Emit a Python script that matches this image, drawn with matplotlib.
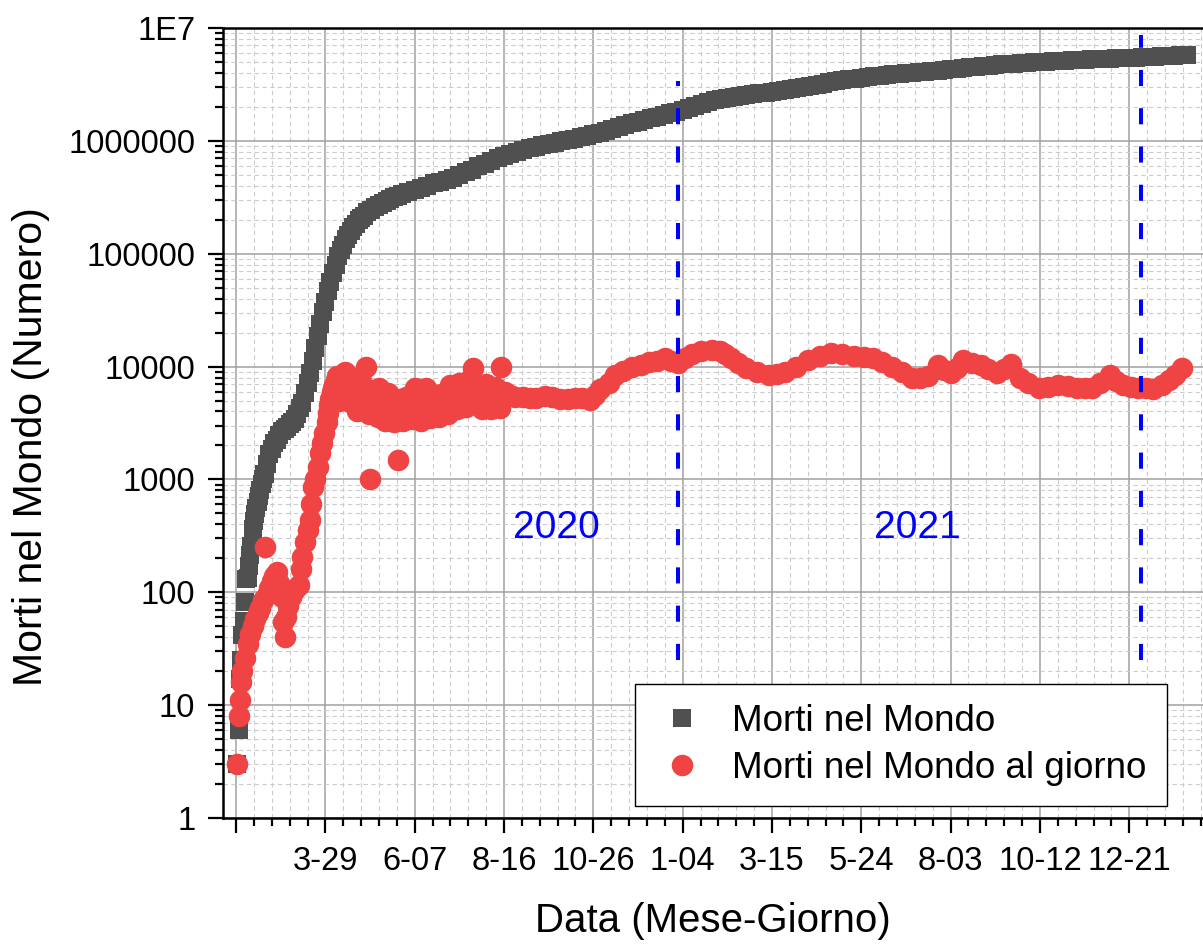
import matplotlib
matplotlib.use("Agg")
import matplotlib.pyplot as plt
from matplotlib.ticker import FixedLocator, MultipleLocator, LogLocator, NullFormatter

plt.rcParams['font.family'] = ['Liberation Sans', 'DejaVu Sans']

# giorni dal 20 gennaio 2020
cum_days = [1, 2, 3, 4, 5, 6, 7, 8, 9, 10, 11, 12, 13, 14, 15, 16, 17, 18, 19, 20, 21, 22, 23, 24,
            26, 28, 30, 32, 34, 36, 38, 40, 42, 44, 46, 48, 50, 52, 54, 56, 58, 60, 62, 64, 66, 68,
            70, 72, 74, 76, 78, 80, 82, 84, 86, 88, 90, 92, 94, 96, 98, 100, 103, 106, 109, 112,
            115, 118, 121, 124, 127, 130, 135, 140, 145, 150, 155, 160, 165, 170, 175, 180, 185,
            190, 195, 200, 205, 210, 215, 220, 225, 230, 235, 240, 245, 250, 255, 260, 265, 270,
            275, 280, 285, 290, 295, 300, 305, 310, 315, 320, 325, 330, 335, 340, 345, 350, 355,
            360, 365, 370, 375, 380, 385, 390, 395, 400, 405, 410, 415, 420, 425, 430, 435, 440,
            445, 450, 455, 460, 465, 470, 475, 480, 485, 490, 495, 500, 505, 510, 515, 520, 525,
            530, 535, 540, 545, 550, 555, 560, 565, 570, 575, 580, 585, 590, 595, 600, 605, 610,
            615, 620, 625, 630, 635, 640, 645, 650, 655, 660, 665, 670, 675, 680, 685, 690, 695,
            700, 705, 710, 715, 720, 725, 730, 735, 740, 745]
cum_deaths = [3, 6, 17, 25, 42, 56, 82, 131, 133, 171, 213, 259, 362, 426, 492, 564, 634, 719, 806,
              906, 1013, 1113, 1118, 1371, 1666, 1868, 2122, 2251, 2469, 2708, 2814, 2941, 3085,
              3254, 3460, 3803, 4262, 4720, 5819, 7126, 8733, 11299, 14651, 18625, 23970, 30652,
              37582, 46809, 56700, 68000, 79000, 95000, 108000, 120000, 134000, 146000, 160000,
              172000, 184000, 197000, 207000, 218000, 232000, 245000, 259000, 271000, 284000,
              296000, 305000, 315000, 325000, 336000, 351000, 368000, 384000, 400000, 419000,
              436000, 452000, 473000, 500000, 529000, 557000, 593000, 625000, 661000, 698000,
              735000, 770000, 800000, 830000, 858000, 885000, 912000, 940000, 965000, 992000,
              1015000, 1043000, 1072000, 1105000, 1140000, 1180000, 1230000, 1280000, 1330000,
              1380000, 1430000, 1480000, 1530000, 1580000, 1640000, 1700000, 1760000, 1820000,
              1880000, 1960000, 2040000, 2130000, 2210000, 2290000, 2350000, 2410000, 2460000,
              2510000, 2560000, 2600000, 2640000, 2680000, 2720000, 2770000, 2820000, 2880000,
              2940000, 3010000, 3080000, 3150000, 3220000, 3290000, 3360000, 3430000, 3500000,
              3560000, 3620000, 3680000, 3730000, 3780000, 3830000, 3880000, 3920000, 3960000,
              4000000, 4040000, 4090000, 4140000, 4190000, 4250000, 4310000, 4370000, 4430000,
              4490000, 4550000, 4600000, 4650000, 4700000, 4750000, 4790000, 4830000, 4870000,
              4910000, 4950000, 4980000, 5020000, 5050000, 5090000, 5120000, 5160000, 5190000,
              5230000, 5260000, 5290000, 5320000, 5350000, 5380000, 5410000, 5440000, 5470000,
              5500000, 5540000, 5580000, 5620000, 5660000, 5700000, 5740000, 5780000]

# morti giornaliere: inizio
early_days = [1, 2, 3, 4, 5, 7, 9, 11, 13, 15, 17, 19, 21, 23, 24, 26, 28, 30, 32, 34, 36, 37, 38,
              39, 41, 43, 45, 47, 49, 51, 52, 54, 56, 58, 59, 60, 62, 64, 66, 67, 69, 71, 72, 73]
early_vals = [3, 8, 11, 16, 20, 26, 35, 43, 50, 58, 65, 72, 85, 250, 95, 110, 125, 140, 150, 120,
              90, 55, 40, 60, 75, 90, 100, 110, 115, 160, 205, 280, 360, 440, 600, 860, 1000, 1300,
              1700, 2100, 2600, 3200, 3900, 4600]

# morti giornaliere: aprile-agosto 2020 (giorni 74-211)
mid_days = list(range(74, 212))
mid_vals = [5200, 6000, 6400, 6800, 7600, 8200, 6200,
            5000, 5400, 7300, 8400, 9000, 7800, 6100,
            5100, 4900, 7500, 8000, 7600, 6300, 5200,
            4000, 4600, 6800, 7400, 6200, 5600, 4000,
            10000, 4200, 3800, 1000, 5800, 6200, 5500,
            4400, 3900, 3600, 6500, 5700, 5400, 4800,
            3700, 3300, 4300, 5800, 5500, 5200, 4600,
            3500, 3200, 3700, 4800, 1500, 5200, 4300,
            3600, 3300, 4300, 5400, 5100, 5000, 4300,
            3700, 3400, 4800, 6500, 5100, 4800, 4000,
            3500, 3300, 4900, 5900, 5400, 6400, 4700,
            3600, 3500, 4800, 5100, 5400, 5300, 4800,
            3700, 3600, 5100, 5700, 5600, 5600, 4600,
            4000, 3800, 5400, 6800, 6300, 6200, 5600,
            4300, 4200, 6500, 7200, 7000, 6500, 5800,
            4400, 4400, 6600, 7100, 7800, 6500, 5200,
            9800, 5000, 6600, 7000, 6500, 6200, 5400,
            4200, 4300, 6400, 7000, 6900, 6400, 5300,
            4200, 4500, 6300, 6600, 6200, 5800, 5100,
            4300, 10000, 6000, 5500, 5900]

# morti giornaliere: da settembre 2020
late_days = [215, 219, 225, 230, 235, 242, 248, 254, 260, 266, 271, 277, 281, 285, 292, 297, 303,
             310, 317, 324, 330, 336, 341, 346, 352, 357, 364, 373, 379, 383, 388, 393, 400, 408,
             418, 424, 430, 439, 448, 458, 466, 475, 484, 492, 499, 506, 514, 522, 530, 536, 542,
             550, 555, 560, 565, 570, 577, 584, 589, 596, 602, 607, 614, 621, 629, 636, 644, 652,
             659, 665, 671, 677, 685, 690, 695, 701, 707, 713, 719, 726, 731, 736, 741]
late_vals = [5600, 5400, 5400, 5300, 5300, 5500, 5400, 5200, 5200, 5300, 5300, 5100, 5600, 6300,
             7200, 8400, 9200, 10000, 10400, 10900, 11300, 11800, 11200, 10700, 12000, 13000, 13800,
             14100, 13800, 13000, 11800, 10700, 9800, 9000, 8400, 8600, 9000, 10000, 11400, 12400,
             13300, 13000, 12500, 12200, 11800, 11000, 10000, 9000, 8000, 7900, 8200, 10300, 9400,
             8800, 9800, 11500, 10800, 10300, 9600, 8800, 9500, 10500, 8000, 7200, 6500, 6600,
             6800, 6700, 6500, 6500, 6500, 7200, 8400, 7400, 6800, 6600, 6500, 6400, 6300, 6800,
             7600, 8500, 9800]

daily_days = early_days + mid_days + late_days
daily_deaths = early_vals + mid_vals + late_vals

tick_days = [0, 70, 140, 210, 280, 350, 420, 490, 560, 630, 700]
tick_labels = ['', '3-29', '6-07', '8-16', '10-26', '1-04', '3-15', '5-24', '8-03', '10-12', '12-21']
year_marks = [346, 709]
year_tops = [3.4e6, 8.6e6]

fig = plt.figure(figsize=(12.03, 9.46), dpi=100)
ax = fig.add_axes([0.1854, 0.1353, 0.8146, 0.8351])

ax.set_yscale('log')
ax.set_ylim(1, 1e7)
ax.set_xlim(-10.2, 757.8)

ax.plot(cum_days, cum_deaths, linestyle='none', marker='s', markersize=13,
        markeredgewidth=0, color='#505050', label='Morti nel Mondo', zorder=3)
ax.plot(daily_days, daily_deaths, linestyle='none', marker='o', markersize=15.5,
        markeredgewidth=0, color='#F04343', label='Morti nel Mondo al giorno', zorder=4)

for xm, top in zip(year_marks, year_tops):
    ax.plot([xm, xm], [25, top], color='blue', linewidth=2.9, dashes=(4, 5.5), zorder=5)

ax.text(251, 370, '2020', color='blue', fontsize=28, ha='center', va='center')
ax.text(534, 370, '2021', color='blue', fontsize=28, ha='center', va='center')

# assi e griglie
ax.xaxis.set_major_locator(FixedLocator(tick_days))
ax.set_xticklabels(tick_labels)
ax.xaxis.set_minor_locator(MultipleLocator(14))
ax.yaxis.set_minor_locator(LogLocator(base=10, subs=range(2, 10), numticks=20))
ax.yaxis.set_minor_formatter(NullFormatter())
ax.set_yticks([1, 10, 100, 1000, 1e4, 1e5, 1e6, 1e7])
ax.set_yticklabels(['1', '10', '100', '1000', '10000', '100000', '1000000', '1E7'])

ax.grid(which='major', color='#a0a0a0', linewidth=1.1, linestyle='-', zorder=0)
ax.grid(which='minor', color='#cccccc', linewidth=0.8, linestyle=(0, (4, 3)), zorder=0)
ax.set_axisbelow(True)

ax.tick_params(which='major', direction='out', length=11, width=1.6, labelsize=23.5, pad=9)
ax.tick_params(which='minor', direction='out', length=6, width=1.6)
ax.tick_params(top=False, right=False)
for side in ['left', 'bottom', 'top']:
    ax.spines[side].set_linewidth(1.8)
ax.spines['right'].set_visible(False)

ax.set_xlabel('Data (Mese-Giorno)', fontsize=29, labelpad=18)
ax.set_ylabel('Morti nel Mondo (Numero)', fontsize=29.5)
ax.yaxis.set_label_coords(-0.177, 0.47)

leg = ax.legend(loc='lower left', bbox_to_anchor=(0.42, 0.015), fontsize=26.5, frameon=True,
                fancybox=False, edgecolor='black', framealpha=1, borderpad=0.55,
                handletextpad=0.6, handlelength=1.5, labelspacing=0.32, borderaxespad=0)
leg.get_frame().set_linewidth(1.0)

fig.savefig('out.png', dpi=100)
